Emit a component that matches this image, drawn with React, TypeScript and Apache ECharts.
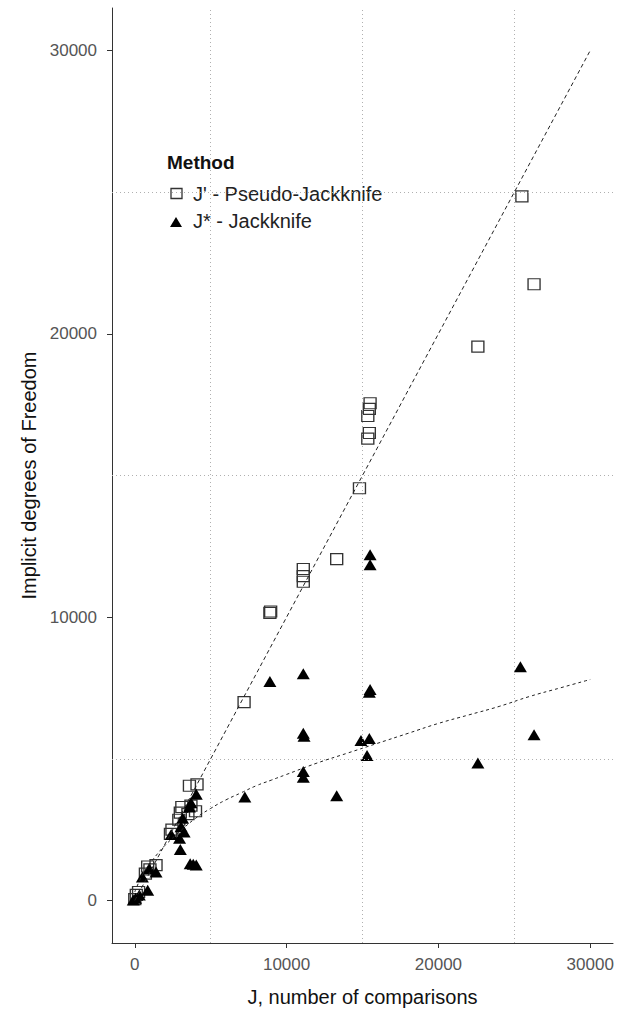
import React, { useEffect, useRef } from "react";
import * as echarts from "echarts";

const tickValues = [0, 10000, 20000, 30000];
const gridValues = [5000, 15000, 25000];

// J' - Pseudo-Jackknife (open squares)
const pseudoJ = [0, 100, 250, 700, 850, 1000, 1400, 2350, 2450, 2900, 3000, 3100, 3500, 3700, 4000, 3600, 4100, 7200, 8900, 8950, 11100, 11100, 11100, 13300, 14800, 15350, 15450, 15350, 15450, 15500, 22600, 25500, 26300];
const pseudoDf = [50, 200, 300, 950, 1200, 1100, 1250, 2350, 2500, 2850, 3100, 3300, 3050, 3350, 3150, 4050, 4100, 7000, 10150, 10200, 11250, 11450, 11700, 12050, 14550, 16300, 16500, 17100, 17350, 17550, 19550, 24850, 21750];

// J* - Jackknife (filled triangles)
const jackJ = [-100, 50, 300, 500, 850, 950, 1400, 2400, 2950, 3000, 3050, 3150, 3250, 3600, 3700, 4050, 3650, 3850, 4050, 7250, 8900, 11100, 11100, 11150, 11100, 11100, 13300, 14900, 15450, 15300, 15500, 15450, 15500, 15500, 22600, 25400, 26300];
const jackDf = [20, 80, 190, 830, 360, 1130, 1010, 2330, 2200, 1800, 2600, 2900, 2420, 3300, 3450, 3750, 1300, 1280, 1250, 3650, 7730, 8000, 5900, 5800, 4550, 4350, 3700, 5650, 5720, 5120, 7450, 7350, 12200, 11850, 4850, 8250, 5850];

// dashed reference line (pseudo-jackknife fit)
const lineAJ = [0, 30000];
const lineADf = [0, 30000];

// dashed fitted curve (jackknife)
const lineBJ = [0, 500, 1000, 1500, 2000, 3000, 4000, 5000, 6000, 7000, 8000, 9000, 10000, 12000, 14000, 16000, 18000, 20000, 22000, 24000, 26000, 28000, 30000];
const lineBDf = [300, 900, 1300, 1650, 1950, 2450, 2900, 3250, 3550, 3800, 4050, 4250, 4450, 4850, 5200, 5550, 5900, 6250, 6550, 6850, 7200, 7500, 7800];

const legendTitle = "Method";
const seriesNames = ["J' - Pseudo-Jackknife", "J* - Jackknife"];

const zip = (a: number[], b: number[]) => a.map((v, i) => [v, b[i]]);
const FONT = "'Liberation Sans', Arial, Helvetica, sans-serif";

export default function App() {
  const ref = useRef<HTMLDivElement>(null);
  useEffect(() => {
    if (!ref.current) return;
    const chart = echarts.init(ref.current, null, { renderer: "svg" });
    const axisCommon = {
      type: "value" as const,
      min: -1500,
      max: 31500,
      splitLine: { show: false },
      axisLine: { show: true, onZero: false, lineStyle: { color: "#333", width: 1 } },
      axisTick: { show: true, customValues: tickValues, length: 5, lineStyle: { color: "#333", width: 1 } },
      nameLocation: "middle" as const,
      nameTextStyle: { fontFamily: FONT, fontSize: 20, color: "#111" },
    };
    const labelCommon = {
      customValues: tickValues,
      fontSize: 17,
      color: "#555",
      fontFamily: FONT,
      formatter: (v: number) => String(v),
    };
    chart.setOption({
      animation: false,
      backgroundColor: "#fff",
      textStyle: { fontFamily: FONT },
      grid: { left: 112, right: 15, top: 8, bottom: 69, containLabel: false, outerBoundsMode: "none" },
      xAxis: {
        ...axisCommon,
        name: "J, number of comparisons",
        nameGap: 44,
        axisLabel: { ...labelCommon, margin: 13 },
      },
      yAxis: {
        ...axisCommon,
        name: "Implicit degrees of Freedom",
        nameGap: 72,
        axisLabel: { ...labelCommon, margin: 15 },
      },
      graphic: [
        { type: "text", left: 167, top: 153, style: { text: legendTitle, font: `bold 19px ${FONT}`, fill: "#111" } },
        { type: "rect", shape: { x: 171, y: 188.5, width: 11, height: 10 }, style: { fill: "none", stroke: "#333", lineWidth: 1.3 } },
        { type: "text", left: 193, top: 184, style: { text: seriesNames[0], font: `20px ${FONT}`, fill: "#222" } },
        { type: "polygon", shape: { points: [[170, 227], [182, 227], [176, 217]] }, style: { fill: "#000" } },
        { type: "text", left: 193, top: 211, style: { text: seriesNames[1], font: `20px ${FONT}`, fill: "#222" } },
      ],
      series: [
        {
          type: "line",
          data: [],
          z: 1,
          markLine: {
            silent: true,
            symbol: ["none", "none"],
            label: { show: false },
            lineStyle: { color: "#b0b0b0", type: [1, 3], width: 1 },
            data: [...gridValues.map((v) => ({ xAxis: v })), ...gridValues.map((v) => ({ yAxis: v }))],
          },
        },
        {
          name: seriesNames[0],
          type: "scatter",
          data: zip(pseudoJ, pseudoDf),
          symbol: "rect",
          symbolSize: [12, 11],
          itemStyle: { color: "rgba(0,0,0,0)", borderColor: "#333", borderWidth: 1.3, opacity: 1 },
          z: 3,
        },
        {
          name: seriesNames[1],
          type: "scatter",
          data: zip(jackJ, jackDf),
          symbol: "triangle",
          symbolSize: [13, 11],
          itemStyle: { color: "#000", opacity: 1 },
          z: 4,
        },
        {
          type: "line",
          data: zip(lineAJ, lineADf),
          showSymbol: false,
          symbol: "none",
          lineStyle: { color: "#222", width: 1, type: [4, 3] },
          z: 5,
        },
        {
          type: "line",
          data: zip(lineBJ, lineBDf),
          showSymbol: false,
          symbol: "none",
          smooth: true,
          lineStyle: { color: "#222", width: 1, type: [3, 3] },
          z: 5,
        },
      ],
    });
    return () => chart.dispose();
  }, []);
  return <div ref={ref} style={{ position: "fixed", left: 0, top: 0, width: 628, height: 1012 }} />;
}
